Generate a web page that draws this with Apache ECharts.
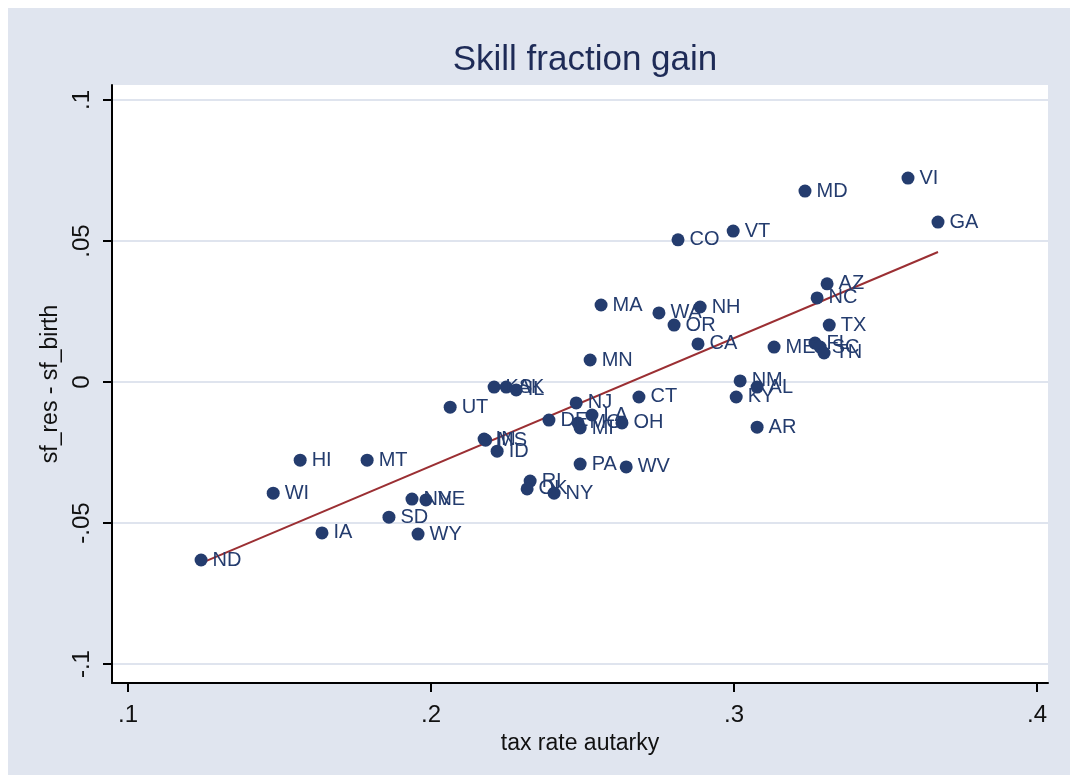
<!DOCTYPE html>
<html>
<head>
<meta charset="utf-8">
<title>Skill fraction gain</title>
<script src="https://cdn.jsdelivr.net/npm/echarts@6/dist/echarts.min.js"></script>
<style>
  html, body { margin: 0; padding: 0; background: #ffffff; }
  #chart { position: absolute; left: 8px; top: 8px; width: 1062px; height: 767px; }
</style>
</head>
<body>
<div id="chart"></div>
<script>
// state labels, tax rate autarky (x) and sf_res - sf_birth (y)
var states = ['ND','WI','HI','IA','MT','SD','NV','NE','WY','UT',
              'IN','MS','ID','KS','AK','IL','DE','NJ','LA','MO',
              'MI','OH','CT','PA','WV','RI','OK','NY','MN','MA',
              'WA','OR','NH','CA','CO','VT','MD','VI','GA','AZ',
              'NC','TX','ME','FL','SC','TN','NM','AL','KY','AR'];
var taxRate = [0.1241,0.1479,0.1568,0.1640,0.1789,0.1861,0.1937,0.1983,0.1957,0.2063,
               0.2175,0.2180,0.2218,0.2208,0.2248,0.2281,0.2389,0.2479,0.2531,0.2485,
               0.2492,0.2630,0.2686,0.2492,0.2644,0.2327,0.2317,0.2406,0.2525,0.2561,
               0.2752,0.2802,0.2888,0.2881,0.2815,0.2997,0.3234,0.3574,0.3673,0.3307,
               0.3274,0.3314,0.3132,0.3267,0.3284,0.3297,0.3020,0.3076,0.3007,0.3076];
var sfGain = [-0.0631,-0.0394,-0.0277,-0.0535,-0.0277,-0.0479,-0.0415,-0.0418,-0.0539,-0.0089,
              -0.0202,-0.0206,-0.0245,-0.0018,-0.0018,-0.0028,-0.0135,-0.0074,-0.0117,-0.0145,
              -0.0163,-0.0145,-0.0053,-0.0291,-0.0301,-0.0351,-0.0379,-0.0394,0.0078,0.0273,
              0.0245,0.0202,0.0266,0.0135,0.0504,0.0535,0.0677,0.0723,0.0567,0.0348,
              0.0298,0.0202,0.0124,0.0138,0.0124,0.0103,0.0004,-0.0018,-0.0053,-0.0160];
// fitted line end points
var fitX = [0.1241, 0.3673];
var fitY = [-0.0642, 0.0461];
var xTicks = [0.1, 0.2, 0.3, 0.4];
var yTicks = [-0.1, -0.05, 0, 0.05, 0.1];

var navy = '#243c6e';
var fontName = 'Liberation Sans Narrow, Liberation Sans, Arial, sans-serif';

// Stata style numbers: .1 instead of 0.1
function stataNum(v) {
    var s = String(Math.round(v * 1000) / 1000);
    return s.replace('0.', '.');
}

var points = [];
for (var i = 0; i < states.length; i++) {
    points.push([taxRate[i], sfGain[i], states[i]]);
}
var fitLine = [];
for (var j = 0; j < fitX.length; j++) {
    fitLine.push([fitX[j], fitY[j]]);
}

var myChart = echarts.init(document.getElementById('chart'));
var option = {
    backgroundColor: '#e0e5ef',
    animation: false,
    title: {
        text: 'Skill fraction gain',
        left: 572,
        top: 30,
        textAlign: 'center',
        textStyle: { color: '#1e2b57', fontSize: 35, fontWeight: 'normal', fontFamily: fontName }
    },
    grid: {
        left: 104, right: 22, top: 77, bottom: 92,
        show: true, backgroundColor: '#ffffff', borderWidth: 0
    },
    xAxis: {
        type: 'value',
        min: 0.0947, max: 0.4036,
        name: 'tax rate autarky',
        nameLocation: 'middle',
        nameGap: 47,
        nameTextStyle: { color: '#111', fontSize: 23, fontFamily: fontName },
        axisLine: { show: true, onZero: false, lineStyle: { color: '#000', width: 2 } },
        axisTick: { show: true, length: 9, lineStyle: { color: '#000', width: 2 }, customValues: xTicks },
        axisLabel: {
            customValues: xTicks, margin: 20,
            color: '#111', fontSize: 24, fontFamily: fontName,
            formatter: stataNum
        },
        splitLine: { show: false }
    },
    yAxis: {
        type: 'value',
        min: -0.1067, max: 0.1053,
        name: 'sf_res - sf_birth',
        nameLocation: 'middle',
        nameGap: 40,
        nameTextStyle: { color: '#111', fontSize: 23, fontFamily: fontName },
        axisLine: { show: true, onZero: false, lineStyle: { color: '#000', width: 2 } },
        axisTick: { show: true, length: 9, lineStyle: { color: '#000', width: 2 }, customValues: yTicks },
        axisLabel: {
            customValues: yTicks, margin: 18, rotate: 90,
            color: '#111', fontSize: 24, fontFamily: fontName,
            formatter: stataNum
        },
        splitLine: { show: true, lineStyle: { color: '#dfe4ee', width: 2 } }
    },
    series: [
        {
            name: 'fit',
            type: 'line',
            data: fitLine,
            symbol: 'none',
            lineStyle: { color: '#9b2f33', width: 2 },
            z: 1
        },
        {
            name: 'states',
            type: 'scatter',
            data: points,
            symbolSize: 13,
            itemStyle: { color: navy, opacity: 1 },
            label: {
                show: true,
                position: 'right',
                distance: 5,
                formatter: function (p) { return p.data[2]; },
                color: navy,
                fontSize: 20,
                fontFamily: 'Liberation Sans, Arial, sans-serif'
            },
            z: 2
        }
    ]
};
myChart.setOption(option);
</script>
</body>
</html>
